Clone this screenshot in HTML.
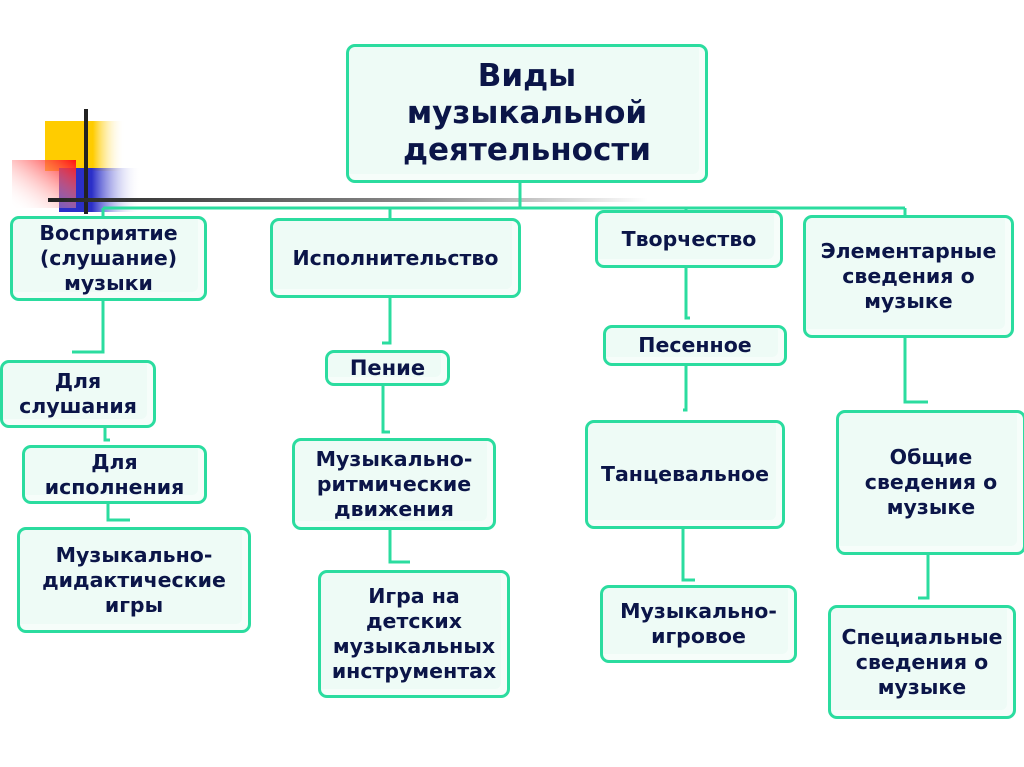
<!DOCTYPE html>
<html><head><meta charset="utf-8"><style>
html,body{margin:0;padding:0;background:#fff;}
body{width:1024px;height:767px;position:relative;overflow:hidden;font-family:"DejaVu Sans","Liberation Sans",sans-serif;}
.b{position:absolute;box-sizing:border-box;border:3px solid #2bdc9f;border-radius:9px;background:#eefbf6;display:flex;align-items:center;justify-content:center;text-align:center;color:#0b1548;font-weight:bold;font-size:20.5px;line-height:25px;box-shadow:inset -6px -6px 0 #f6fdfa;white-space:nowrap;}
svg{position:absolute;left:0;top:0;}
</style></head><body>
<svg width="1024" height="767">
<defs>
<linearGradient id="g" x1="0" x2="1"><stop offset="0" stop-color="#222"/><stop offset="0.6" stop-color="#888"/><stop offset="1" stop-color="#fff"/></linearGradient>
<linearGradient id="yl" x1="0" x2="1"><stop offset="0.6" stop-color="#ffcc00"/><stop offset="1" stop-color="#fff" stop-opacity="0"/></linearGradient>
<linearGradient id="bl" x1="0" x2="1"><stop offset="0.4" stop-color="#2b2fc8"/><stop offset="1" stop-color="#fff" stop-opacity="0"/></linearGradient>
<linearGradient id="rd" x1="1" y1="0" x2="0" y2="1"><stop offset="0" stop-color="#ff1010"/><stop offset="1" stop-color="#fff" stop-opacity="0"/></linearGradient>
</defs>
<rect x="45" y="121" width="80" height="50" fill="url(#yl)"/>
<rect x="59" y="168" width="82" height="44" fill="url(#bl)"/>
<rect x="12" y="160" width="64" height="48" fill="url(#rd)"/>
<rect x="84" y="109" width="4" height="105" fill="#222"/>
<rect x="48" y="198" width="600" height="4" fill="url(#g)"/>
<path d="M103 208 H905" stroke="#2bdc9f" stroke-width="3" fill="none"/>
<path d="M520 180 V208" stroke="#2bdc9f" stroke-width="3"/>
<g stroke="#2bdc9f" stroke-width="3" fill="none">
<path d="M103 300 V352 H72"/>
<path d="M105 428 V440 H110"/>
<path d="M108 503 V520 H130"/>
<path d="M390 297 V343 H382"/>
<path d="M383 385 V432 H390"/>
<path d="M390 530 V562 H410"/>
<path d="M686 268 V318 H690"/>
<path d="M686 365 V410 H683"/>
<path d="M683 528 V580 H695"/>
<path d="M905 338 V402 H928"/>
<path d="M928 554 V598 H918"/>
<path d="M103 208 V218"/><path d="M390 208 V220"/><path d="M686 208 V212"/><path d="M905 208 V217"/>
</g>
</svg>
<div class="b" style="left:346px;top:44px;width:362px;height:139px;font-size:31px;line-height:37px;">Виды<br>музыкальной<br>деятельности</div>
<div class="b" style="left:10px;top:216px;width:197px;height:85px;">Восприятие<br>(слушание)<br>музыки</div>
<div class="b" style="left:270px;top:218px;width:251px;height:80px;">Исполнительство</div>
<div class="b" style="left:595px;top:210px;width:188px;height:58px;">Творчество</div>
<div class="b" style="left:803px;top:215px;width:211px;height:123px;">Элементарные<br>сведения о<br>музыке</div>
<div class="b" style="left:0px;top:360px;width:156px;height:68px;">Для<br>слушания</div>
<div class="b" style="left:22px;top:445px;width:185px;height:59px;">Для<br>исполнения</div>
<div class="b" style="left:17px;top:527px;width:234px;height:106px;">Музыкально-<br>дидактические<br>игры</div>
<div class="b" style="left:325px;top:350px;width:125px;height:36px;font-size:21px;">Пение</div>
<div class="b" style="left:292px;top:438px;width:204px;height:92px;">Музыкально-<br>ритмические<br>движения</div>
<div class="b" style="left:318px;top:570px;width:192px;height:128px;">Игра на<br>детских<br>музыкальных<br>инструментах</div>
<div class="b" style="left:603px;top:325px;width:184px;height:41px;">Песенное</div>
<div class="b" style="left:585px;top:420px;width:200px;height:109px;">Танцевальное</div>
<div class="b" style="left:600px;top:585px;width:197px;height:78px;">Музыкально-<br>игровое</div>
<div class="b" style="left:836px;top:410px;width:190px;height:145px;">Общие<br>сведения о<br>музыке</div>
<div class="b" style="left:828px;top:605px;width:188px;height:114px;">Специальные<br>сведения о<br>музыке</div>
</body></html>
